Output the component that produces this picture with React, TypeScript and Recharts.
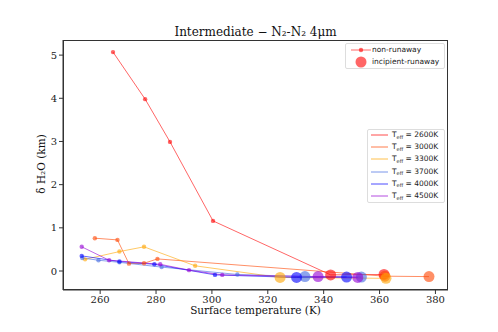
import React from 'react';
import { ComposedChart, Line, XAxis, YAxis } from 'recharts';

// surface temperature (K), delta H2O (km), incipient-runaway flag per point
const t2600 = [264.6, 276.1, 285.0, 300.4, 342.5, 361.6];
const d2600 = [5.07, 3.98, 2.99, 1.16, -0.09, -0.08];
const r2600 = [0, 0, 0, 0, 1, 1];

const t3000 = [258.1, 266.2, 270.3, 275.7, 280.5, 361.9, 377.7];
const d3000 = [0.76, 0.72, 0.17, 0.18, 0.28, -0.12, -0.13];
const r3000 = [0, 0, 0, 0, 0, 1, 1];

const t3300 = [254.6, 266.9, 275.7, 294.0, 324.4, 362.3];
const d3300 = [0.27, 0.45, 0.56, 0.12, -0.15, -0.17];
const r3300 = [0, 0, 0, 0, 1, 1];

const t3700 = [253.6, 259.4, 266.9, 282.0, 309.1, 333.3, 353.5];
const d3700 = [0.3, 0.25, 0.2, 0.09, -0.08, -0.13, -0.14];
const r3700 = [0, 0, 0, 0, 0, 1, 1];

const t4000 = [253.4, 266.9, 279.4, 301.1, 330.3, 348.2];
const d4000 = [0.35, 0.22, 0.155, -0.09, -0.15, -0.14];
const r4000 = [0, 0, 0, 0, 1, 1];

const t4500 = [253.4, 263.2, 281.5, 291.8, 303.7, 338.0, 352.2];
const d4500 = [0.56, 0.25, 0.155, 0.02, -0.09, -0.13, -0.15];
const r4500 = [0, 0, 0, 0, 0, 1, 1];

const xTicks = [260, 280, 300, 320, 340, 360, 380];
const yTicks = [0, 1, 2, 3, 4, 5];

const build = (t: number[], d: number[], r: number[]) =>
  t.map((v, i) => ({ t: v, d: d[i], big: r[i] === 1 }));

const series = [
  { name: '2600K', color: '#ff0000', data: build(t2600, d2600, r2600) },
  { name: '3000K', color: '#ff4500', data: build(t3000, d3000, r3000) },
  { name: '3300K', color: '#ffa500', data: build(t3300, d3300, r3300) },
  { name: '3700K', color: '#4169e1', data: build(t3700, d3700, r3700) },
  { name: '4000K', color: '#0000ff', data: build(t4000, d4000, r4000) },
  { name: '4500K', color: '#9400d3', data: build(t4500, d4500, r4500) },
];

const serif = 'DejaVu Serif';
const sans = 'DejaVu Sans';

const makeDot = (color: string) => (props: any) => {
  const { cx, cy, payload, index } = props;
  if (cx == null || cy == null) return <g key={index} />;
  return (
    <circle
      key={index}
      cx={cx}
      cy={cy}
      r={payload.big ? 5.5 : 2.2}
      fill={color}
      fillOpacity={0.6}
      stroke="none"
    />
  );
};

const tickStyle = { fontFamily: serif, fontSize: 10, fill: '#222' };

export default function App() {
  return (
    <div style={{ position: 'absolute', left: 0, top: 0, width: 498, height: 332, background: '#fff' }}>
      <div
        style={{
          position: 'absolute', left: 63, width: 385, top: 25, textAlign: 'center',
          fontFamily: serif, fontSize: 12, color: '#111', lineHeight: '14px',
        }}
      >
        Intermediate − N₂-N₂ 4μm
      </div>
      <ComposedChart width={498} height={332} margin={{ top: 40, right: 50, bottom: 0, left: 0 }}>
        <XAxis
          type="number"
          dataKey="t"
          domain={[246.7, 384.5]}
          ticks={xTicks}
          allowDataOverflow
          height={42}
          tickSize={4}
          tick={tickStyle}
          stroke="#333"
        />
        <YAxis
          type="number"
          domain={[-0.44, 5.35]}
          ticks={yTicks}
          allowDataOverflow
          width={63}
          tickSize={4}
          tick={tickStyle}
          stroke="#333"
        />
        {series.map((s) => (
          <Line
            key={s.name}
            data={s.data}
            dataKey="d"
            type="linear"
            stroke={s.color}
            strokeOpacity={0.6}
            strokeWidth={1}
            dot={makeDot(s.color)}
            activeDot={false}
            isAnimationActive={false}
          />
        ))}
      </ComposedChart>
      {/* plot frame */}
      <div style={{ position: 'absolute', left: 63, top: 39.5, width: 385, height: 250, border: '1px solid #333', boxSizing: 'border-box', pointerEvents: 'none' }} />
      {/* axis labels */}
      <div
        style={{
          position: 'absolute', left: 63, width: 385, top: 303, textAlign: 'center',
          fontFamily: serif, fontSize: 10.5, color: '#111', lineHeight: '14px',
        }}
      >
        Surface temperature (K)
      </div>
      <div
        style={{
          position: 'absolute', left: 41 - 50, top: 164 - 7, width: 100, textAlign: 'center',
          fontFamily: serif, fontSize: 10.5, color: '#111', lineHeight: '14px',
          transform: 'rotate(-90deg)', whiteSpace: 'nowrap',
        }}
      >
        δ H₂O  (km)
      </div>
      {/* marker legend */}
      <div
        style={{
          position: 'absolute', left: 345, top: 43, width: 98, height: 24,
          border: '1px solid #ddd', borderRadius: 2, background: 'rgba(255,255,255,0.8)',
          fontFamily: sans, fontSize: 7.5, color: '#222',
        }}
      >
        <svg style={{ position: 'absolute', left: 0, top: 0 }} width={30} height={24}>
          <line x1={5} x2={25} y1={6} y2={6} stroke="#ff0000" strokeOpacity={0.6} strokeWidth={1} />
          <circle cx={15} cy={6} r={2.2} fill="#ff0000" fillOpacity={0.6} />
          <circle cx={15} cy={18} r={5.5} fill="#ff0000" fillOpacity={0.6} />
        </svg>
        <div style={{ position: 'absolute', left: 26, top: 1, lineHeight: '10px' }}>non-runaway</div>
        <div style={{ position: 'absolute', left: 26, top: 13, lineHeight: '10px' }}>incipient-runaway</div>
      </div>
      {/* colour legend */}
      <div
        style={{
          position: 'absolute', left: 367, top: 129, width: 76, height: 72,
          border: '1px solid #ddd', borderRadius: 2, background: 'rgba(255,255,255,0.8)',
          fontFamily: sans, fontSize: 7.5, color: '#222',
        }}
      >
        {series.map((s, i) => (
          <div key={s.name} style={{ position: 'absolute', left: 0, top: i * 12.2, height: 11, width: 76 }}>
            <svg style={{ position: 'absolute', left: 0, top: 0 }} width={22} height={11}>
              <line x1={3} x2={20} y1={5} y2={5} stroke={s.color} strokeOpacity={0.7} strokeWidth={1} />
            </svg>
            <div style={{ position: 'absolute', left: 24, top: 0, lineHeight: '10px', whiteSpace: 'nowrap' }}>
              T<sub style={{ fontSize: 5, verticalAlign: 'baseline', position: 'relative', top: 1.5 }}>eff</sub> = {s.name}
            </div>
          </div>
        ))}
      </div>
    </div>
  );
}
